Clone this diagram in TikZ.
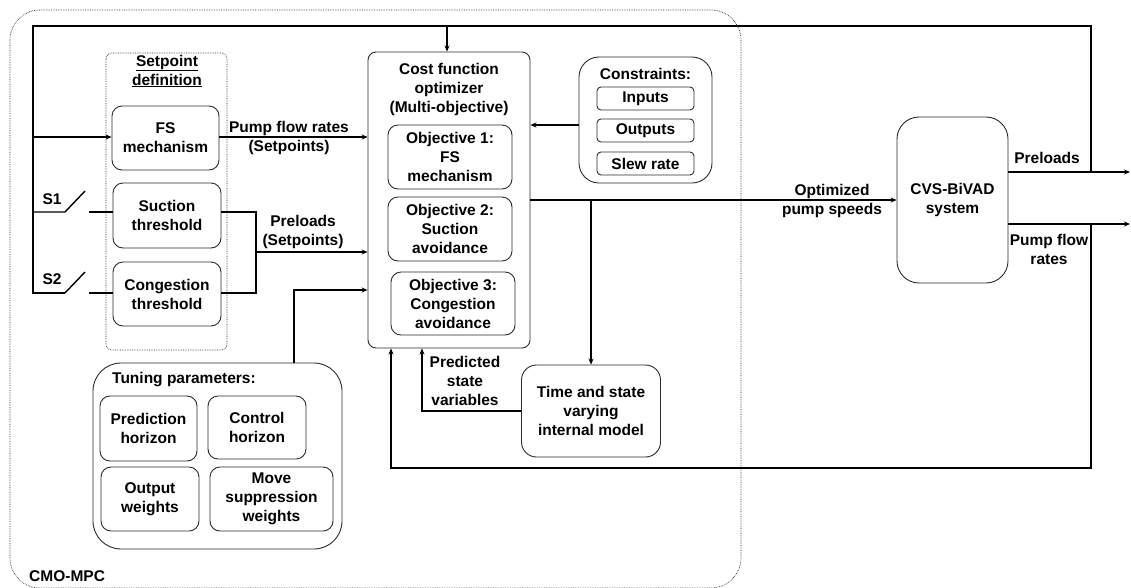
\documentclass[tikz,border=0pt]{standalone}
\usepackage{fontspec}
\setmainfont{Liberation Sans}
\usetikzlibrary{arrows.meta, positioning, calc}
\definecolor{edgeG}{HTML}{2B2B2B}

\begin{document}
\begin{tikzpicture}[
  x=1pt, y=-1pt,
  font=\fontsize{15.5}{19}\selectfont\bfseries,
  blk/.style={
    draw=edgeG, fill=white,
    align=center, inner sep=0pt,
    rounded corners=10pt,
    line width=0.9pt
  },
  itembox/.style={
    blk, rounded corners=4pt,
    minimum width=97, minimum height=23
  },
  objbox/.style={
    blk, minimum width=124, minimum height=64
  },
  grpbox/.style={
    draw=edgeG, densely dotted,
    line width=0.7pt, rounded corners=#1
  },
  lbl/.style={align=center, inner sep=0pt},
  arr/.style={-{Stealth[length=6pt, width=5pt]}, line width=1.4pt},
  ln/.style={line width=1.4pt}
]
\useasboundingbox (0,0) rectangle (1131,587);

%% ═══ CMO-MPC ═══
\draw[grpbox=30pt] (10,10) rectangle (741,588);
\node[lbl, anchor=west] (mpc) at (29,576) {CMO-MPC};

%% ═══ SETPOINT DEFINITION ═══
\draw[grpbox=6pt] (106,53) rectangle (227,350);
\node[lbl] (spdef) at (167,71) {\underline{Setpoint}\\\underline{definition}};

\node[blk, minimum width=107, minimum height=64] (fs) at (165.5,138)
  {FS\\mechanism};
\node[blk, minimum width=108, minimum height=65] (suc) at (167,215.5)
  {Suction\\threshold};
\node[blk, minimum width=108, minimum height=64] (cong) at (167,294)
  {Congestion\\threshold};

%% ═══ COST FUNCTION OPTIMIZER ═══
\node[blk, rounded corners=8pt, minimum width=162, minimum height=296] (cost) at (449,200) {};
\node[lbl] (costT) at (449,89) {Cost function\\optimizer\\(Multi-objective)};

\node[objbox] (obj1) at (450,157) {Objective 1:\\FS\\mechanism};
\node[objbox] (obj2) at (450,229) {Objective 2:\\Suction\\avoidance};
\node[objbox, minimum height=63] (obj3) at (453,303.5) {Objective 3:\\Congestion\\avoidance};

%% ═══ CONSTRAINTS ═══
\node[blk, rounded corners=20pt, minimum width=133, minimum height=126] (cons) at (645.5,120) {};
\node[lbl] (consT) at (645.5,74) {Constraints:};
\node[itembox] (inp) at (645.5,98.5) {Inputs};
\node[itembox] (outp) at (645.5,130.5) {Outputs};
\node[itembox] (slew) at (645.5,163.5) {Slew rate};
\draw[arr] (cons.west |- 0,125) -- (cost.east |- 0,125);

%% ═══ TUNING PARAMETERS ═══
\node[blk, rounded corners=28pt, minimum width=249, minimum height=186] (tune) at (217.5,456) {};
\node[lbl, anchor=west] (tuneT) at (112,380) {Tuning parameters:};
\node[blk, minimum width=97, minimum height=65] (pred) at (148.5,428.5) {Prediction\\horizon};
\node[blk, minimum width=98, minimum height=63] (ctrl) at (257,427.5) {Control\\horizon};
\node[blk, minimum width=98, minimum height=64] (outw) at (150,499) {Output\\weights};
\node[blk, minimum width=123, minimum height=64] (move) at (271.5,499) {Move\\suppression\\weights};

%% ═══ INTERNAL MODEL ═══
\node[blk, rounded corners=15pt, minimum width=139, minimum height=92] (model) at (591,411)
  {Time and state\\varying\\internal model};

%% ═══ PLANT ═══
\node[blk, rounded corners=22pt, minimum width=111, minimum height=166] (cvs) at (952.5,200)
  {CVS-BiVAD\\system};

%% ═══ CONNECTORS ═══
\coordinate (sw1) at (65,212);
\coordinate (sw2) at (65,293);
\coordinate (fbTop) at (1091,26);
\coordinate (plOut) at (1130,172);
\coordinate (pfOut) at (1130,224);
\coordinate (fbBot) at (1091,468);
\coordinate (jn) at (256,252);
\coordinate (tk) at (294,290);
\coordinate (br) at (591,200);
\coordinate (pv) at (422,411);

% plant outputs and feedback
\draw[arr] (cvs.east |- plOut) -- (plOut);
\draw[arr] (cvs.east |- pfOut) -- (pfOut);
\draw[ln] (fbTop |- plOut) -- (fbTop) -- (33,26) -- (33,293) -- (sw2);
\draw[arr] (447,26) -- (cost.north -| 447,0);
\draw[arr] (fbTop |- pfOut) -- (fbBot) -- (391,468) -- (cost.south -| 391,0);

% switches
\draw[ln] (33,212) -- (sw1) -- (85,191);
\draw[ln] (sw2) -- (85,272);
\node[lbl] (s1) at (52,199) {S1};
\node[lbl] (s2) at (52,279) {S2};
\draw[ln] (89,212) -- (suc.west |- sw1);
\draw[ln] (89,293) -- (cong.west |- sw2);
\draw[arr] (33,137) -- (fs.west |- 0,137);

% setpoints
\draw[arr] (fs.east |- 0,137) -- (cost.west |- 0,137);
\node[lbl] (pfr) at (289,137.5) {Pump flow rates\\(Setpoints)};
\draw[ln] (suc.east |- sw1) -| (jn |- sw2) -- (cong.east |- sw2);
\draw[arr] (jn) -- (cost.west |- jn);
\node[lbl] (prl) at (303,231.5) {Preloads\\(Setpoints)};
\draw[arr] (tune.north -| tk) -- (tk) -- (cost.west |- tk);

% optimizer output
\draw[arr] (cost.east |- br) -- (cvs.west);
\node[lbl] (ops) at (832,200.5) {Optimized\\pump speeds};
\draw[arr] (br) -- (model.north);
\draw[arr] (model.west) -- (pv) -- (cost.south -| pv);
\node[lbl] (psv) at (465,381) {Predicted\\state\\variables};

% output labels
\node[lbl] (plL) at (1047,158) {Preloads};
\node[lbl] (pfL) at (1049,249) {Pump flow\\rates};

\end{tikzpicture}
\end{document}
